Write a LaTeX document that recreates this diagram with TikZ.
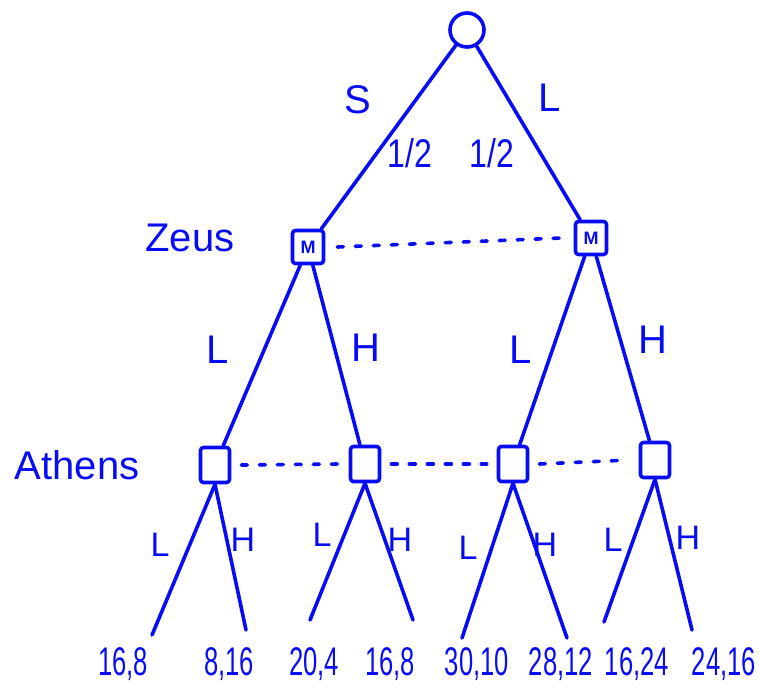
\documentclass[tikz,border=0pt]{standalone}
\usepackage{fontspec}
\setmainfont{Liberation Sans}
\newfontfamily\narrowfont{Liberation Sans}[FakeStretch=0.8]
\newfontfamily\thinfont{Liberation Sans}[FakeStretch=0.64]
\definecolor{pen}{RGB}{8,12,245}
\tikzset{ink/.style={draw=pen,line width=3.6pt,line cap=round,line join=round},
  chance/.style={ink,circle,minimum size=34pt,inner sep=0pt},
  zbox/.style={ink,rectangle,rounded corners=3pt,minimum width=31pt,minimum height=33pt,inner sep=0pt,text=pen,font=\fontsize{18}{18}\selectfont\bfseries},
  abox/.style={ink,rectangle,rounded corners=3pt,minimum width=29pt,minimum height=35pt,inner sep=0pt},
  info/.style={draw=pen,line width=3.6pt,line cap=round,dash pattern=on 6pt off 12pt},
  who/.style={text=pen,font=\fontsize{40}{40}\selectfont},
  act/.style={text=pen,font=\fontsize{40}{40}\selectfont},
  sact/.style={text=pen,font=\fontsize{34}{34}\selectfont},
  prob/.style={text=pen,font=\narrowfont\fontsize{40}{40}\selectfont},
  pay/.style={text=pen,font=\thinfont\fontsize{40}{40}\selectfont}}

\begin{document}
\begin{tikzpicture}[x=1pt,y=-1pt]
\useasboundingbox (0,0) rectangle (759,696);
% decision nodes
\node[chance] (root) at (467,30) {};
\node[zbox] (zs) at (308,247) {M};
\node[zbox] (zl) at (591,238) {M};
\node[abox] (a1) at (215,465) {};
\node[abox] (a2) at (365,464) {};
\node[abox] (a3) at (513,464) {};
\node[abox] (a4) at (655,460) {};
% end points
\coordinate (t1) at (152,635);
\coordinate (t2) at (246,630);
\coordinate (t3) at (310,620);
\coordinate (t4) at (413,620);
\coordinate (t5) at (462,638);
\coordinate (t6) at (567,638);
\coordinate (t7) at (604,622);
\coordinate (t8) at (692,630);
% branches
\draw[ink] (root) -- (zs);
\draw[ink] (root) -- (zl);
\draw[ink] (zs) -- (a1);
\draw[ink] (zs) -- (a2);
\draw[ink] (zl) -- (a3);
\draw[ink] (zl) -- (a4);
\draw[ink] (a1.south) -- (t1);
\draw[ink] (a1.south) -- (t2);
\draw[ink] (a2.south) -- (t3);
\draw[ink] (a2.south) -- (t4);
\draw[ink] (a3.south) -- (t5);
\draw[ink] (a3.south) -- (t6);
\draw[ink] (a4.south) -- (t7);
\draw[ink] (a4.south) -- (t8);
% information sets
\draw[info] (zs.east) ++(12,0) -- ([xshift=-12pt]zl.west);
\draw[info] (a1.east) ++(10,0) -- ([xshift=-10pt]a2.west);
\draw[info] (a2.east) ++(10,0) -- ([xshift=-10pt]a3.west);
\draw[info] (a3.east) ++(10,0) -- ([xshift=-10pt]a4.west);
% labels
\node[who] (zeus) at (190,238) {Zeus};
\node[who] (athens) at (77,465) {Athens};
\node[act] (ls) at (358,100) {S};
\node[act] (ll) at (550,98) {L};
\node[prob] (ps) at (410,153) {1/2};
\node[prob] (pl) at (492,153) {1/2};
\node[act] (z1) at (218,350) {L};
\node[act] (z2) at (366,348) {H};
\node[act] (z3) at (521,350) {L};
\node[act] (z4) at (653,340) {H};
\node[sact] (b1) at (160,545) {L};
\node[sact] (b2) at (243,540) {H};
\node[sact] (b3) at (322,535) {L};
\node[sact] (b4) at (400,540) {H};
\node[sact] (b5) at (468,548) {L};
\node[sact] (b6) at (545,545) {H};
\node[sact] (b7) at (613,540) {L};
\node[sact] (b8) at (688,538) {H};
% payoffs
\node[pay] (p1) at (123,664) {16,8};
\node[pay] (p2) at (229,664) {8,16};
\node[pay] (p3) at (314,664) {20,4};
\node[pay] (p4) at (390,664) {16,8};
\node[pay] (p5) at (477,664) {30,10};
\node[pay] (p6) at (561,664) {28,12};
\node[pay] (p7) at (637,664) {16,24};
\node[pay] (p8) at (724,664) {24,16};
\end{tikzpicture}
\end{document}
